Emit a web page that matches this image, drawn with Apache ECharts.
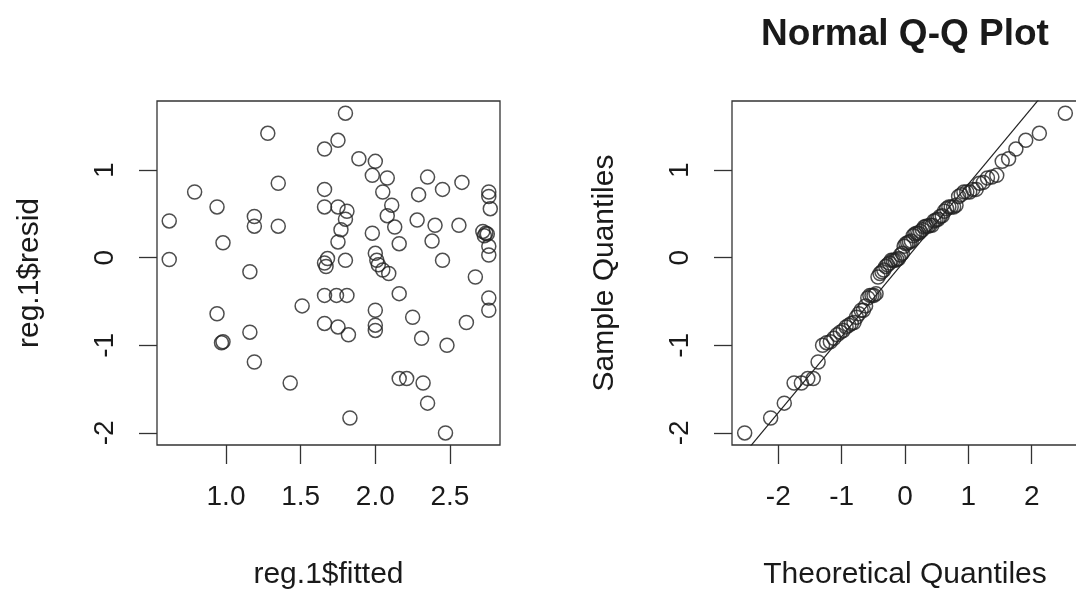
<!DOCTYPE html>
<html>
<head>
<meta charset="utf-8">
<script src="https://cdn.jsdelivr.net/npm/echarts@6/dist/echarts.min.js"></script>
<style>
html,body{margin:0;padding:0;background:#fff;}
#chart{width:1076px;height:590px;}
</style>
</head>
<body>
<div id="chart"></div>
<script>
// ---- data ----
const fitted = [0.62,0.62,0.79,0.94,0.98,0.94,0.97,0.98,1.16,1.16,
  1.19,1.19,1.19,1.28,1.35,1.35,1.43,1.51,1.66,1.66,
  1.66,1.68,1.66,1.67,1.66,1.66,1.75,1.75,1.77,1.75,
  1.74,1.75,1.80,1.81,1.80,1.80,1.81,1.82,1.83,1.89,
  2.00,1.98,2.08,2.05,2.11,2.08,1.98,2.13,2.16,2.00,
  2.01,2.02,2.05,2.09,2.00,2.00,2.00,2.16,2.16,2.21,
  2.25,2.28,2.29,2.31,2.32,2.35,2.35,2.38,2.40,2.45,
  2.45,2.48,2.47,2.56,2.58,2.61,2.67,2.72,2.74,2.73,
  2.75,2.76,2.76,2.77,2.76,2.76,2.76,2.76];
const resid = [0.42,-0.02,0.75,0.58,0.17,-0.64,-0.97,-0.96,-0.16,-0.85,
  0.47,0.36,-1.19,1.42,0.85,0.36,-1.43,-0.55,1.24,0.78,
  0.58,-0.01,-0.06,-0.10,-0.43,-0.75,1.34,0.58,0.32,0.18,
  -0.43,-0.79,1.65,0.53,0.44,-0.03,-0.43,-0.88,-1.83,1.13,
  1.10,0.94,0.91,0.75,0.60,0.48,0.28,0.35,0.16,0.05,
  -0.03,-0.08,-0.14,-0.18,-0.60,-0.77,-0.83,-0.41,-1.38,-1.38,
  -0.68,0.43,0.72,-0.92,-1.43,-1.66,0.92,0.19,0.37,0.78,
  -0.03,-1.00,-2.00,0.37,0.86,-0.74,-0.22,0.30,0.28,0.25,
  0.27,0.75,0.70,0.56,0.13,0.03,-0.46,-0.60];
// theoretical normal quantiles (lower half; upper half mirrors)
const theoLower = [-2.53,-2.12,-1.905,-1.75,-1.635,-1.534,-1.448,-1.371,-1.301,-1.237,
  -1.178,-1.123,-1.071,-1.021,-0.975,-0.930,-0.887,-0.846,-0.805,-0.767,
  -0.729,-0.692,-0.657,-0.622,-0.587,-0.554,-0.521,-0.489,-0.457,-0.426,
  -0.394,-0.364,-0.334,-0.304,-0.275,-0.245,-0.216,-0.187,-0.157,-0.129,
  -0.100,-0.071,-0.043,-0.014];
const qqLineX = [-3, 3];
const qqLineY = [-2.64, 2.58];
const leftXTicks = [1.0, 1.5, 2.0, 2.5];
const leftYTicks = [-2, -1, 0, 1];
const qqXTicks = [-2, -1, 0, 1, 2];
const qqYTicks = [-2, -1, 0, 1];
const titleText = 'Normal Q-Q Plot';
const leftXName = 'reg.1$fitted';
const leftYName = 'reg.1$resid';
const qqXName = 'Theoretical Quantiles';
const qqYName = 'Sample Quantiles';

// ---- build ----
const theo = theoLower.concat(theoLower.slice().reverse().map(v => -v));
const sortedResid = resid.slice().sort((a, b) => a - b);
const scatterData = fitted.map((x, i) => [x, resid[i]]);
const qqData = theo.map((x, i) => [x, sortedResid[i]]);
const qqLineData = qqLineX.map((x, i) => [x, qqLineY[i]]);

const FONT = '"Liberation Sans", Arial, Helvetica, sans-serif';
const TXT = '#1a1a1a';
const tickLabel = {fontFamily: FONT, fontSize: 28, color: TXT};
const nameStyle = {fontFamily: FONT, fontSize: 30, color: TXT};

function xAxis(gridIndex, min, max, ticks, name, fmt) {
  return {
    type: 'value', gridIndex, min, max, position: 'bottom',
    name, nameLocation: 'middle', nameGap: 115, nameTextStyle: nameStyle,
    axisLine: {show: false, onZero: false},
    axisTick: {show: true, length: 19, customValues: ticks, lineStyle: {color: '#333', width: 1.3}},
    axisLabel: Object.assign({customValues: ticks, margin: 38, formatter: fmt}, tickLabel),
    splitLine: {show: false}
  };
}
function yAxis(gridIndex, min, max, ticks, name) {
  return {
    type: 'value', gridIndex, min, max, position: 'left',
    name, nameLocation: 'middle', nameGap: 112, nameTextStyle: nameStyle,
    axisLine: {show: false, onZero: false},
    axisTick: {show: true, length: 18, customValues: ticks, lineStyle: {color: '#333', width: 1.3}},
    axisLabel: Object.assign({customValues: ticks, margin: 38, rotate: 90}, tickLabel),
    splitLine: {show: false}
  };
}

const circleStyle = {color: 'rgba(0,0,0,0)', borderColor: '#222', borderWidth: 1.5};

const chart = echarts.init(document.getElementById('chart'), null, {renderer: 'canvas'});
chart.setOption({
  animation: false,
  backgroundColor: '#fff',
  title: {
    text: titleText, left: 905, top: 16, textAlign: 'center', padding: 0,
    textStyle: {fontFamily: FONT, fontSize: 37, fontWeight: 'bold', color: TXT}
  },
  grid: [
    {left: 157, right: 576, top: 101, bottom: 145, show: true, containLabel: false, outerBoundsMode: 'none', borderColor: '#333', borderWidth: 1.3, backgroundColor: 'transparent'},
    {left: 732, right: -2, top: 101, bottom: 145, show: true, containLabel: false, outerBoundsMode: 'none', borderColor: '#333', borderWidth: 1.3, backgroundColor: 'transparent'}
  ],
  xAxis: [
    xAxis(0, 0.538, 2.835, leftXTicks, leftXName, v => v.toFixed(1)),
    xAxis(1, -2.73, 2.73, qqXTicks, qqXName, v => String(v))
  ],
  yAxis: [
    yAxis(0, -2.138, 1.789, leftYTicks, leftYName),
    yAxis(1, -2.138, 1.789, qqYTicks, qqYName)
  ],
  series: [
    {type: 'scatter', xAxisIndex: 0, yAxisIndex: 0, data: scatterData, symbol: 'circle', symbolSize: 14, itemStyle: circleStyle, silent: true},
    {type: 'scatter', xAxisIndex: 1, yAxisIndex: 1, data: qqData, symbol: 'circle', symbolSize: 14, itemStyle: circleStyle, silent: true},
    {type: 'line', xAxisIndex: 1, yAxisIndex: 1, data: qqLineData, showSymbol: false, symbol: 'none', clip: true, lineStyle: {color: '#222', width: 1.2}, silent: true}
  ]
});
</script>
</body>
</html>
